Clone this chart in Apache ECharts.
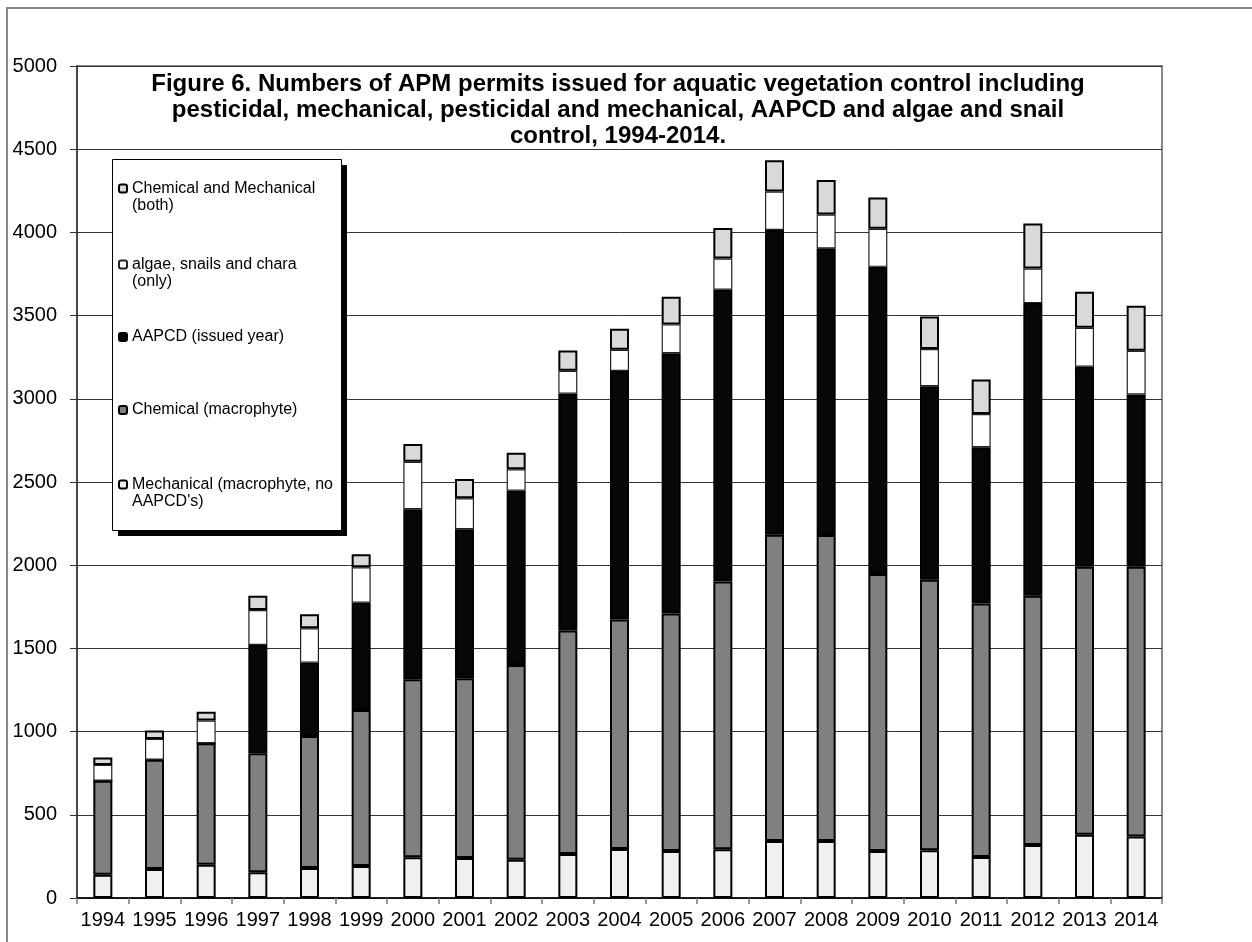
<!DOCTYPE html>
<html>
<head>
<meta charset="utf-8">
<title>APM permits 1994-2014</title>
<script src="https://cdn.jsdelivr.net/npm/echarts@6/dist/echarts.min.js"></script>
<style>
  html, body { margin: 0; padding: 0; background: #fff; }
  #chart { width: 1252px; height: 942px; }
</style>
</head>
<body>
<div id="chart"></div>
<script>
// Permit counts per year, stacked bottom to top
const years = ['1994','1995','1996','1997','1998','1999','2000','2001','2002','2003','2004',
               '2005','2006','2007','2008','2009','2010','2011','2012','2013','2014'];
const mechanical = [140,175,200,155,180,193,245,240,230,265,295,283,293,343,343,283,287,247,319,380,369];
const chemical   = [565,656,730,715,794,937,1069,1080,1170,1343,1378,1426,1609,1840,1838,1664,1626,1523,1498,1610,1621];
const aapcd      = [0,0,0,651,440,645,1022,896,1048,1422,1494,1565,1754,1831,1723,1846,1162,939,1758,1203,1036];
const algae      = [95,125,136,210,207,212,286,186,128,139,128,173,187,232,204,229,224,200,208,234,263];
const chemMech   = [45,50,53,85,84,79,106,116,100,122,126,167,183,187,207,187,195,207,270,217,270];

const yTicks = { min: 0, max: 5000, step: 500 };

const names = {
  mech: 'Mechanical (macrophyte, no\nAAPCD\'s)',
  chem: 'Chemical (macrophyte)',
  aapcd: 'AAPCD (issued year)',
  algae: 'algae, snails and chara\n(only)',
  both: 'Chemical and Mechanical\n(both)'
};

const FONT = '"Liberation Sans", Arial, Helvetica, sans-serif';

function barSeries(name, data, fill, borderWidth, borderColor) {
  return {
    name: name,
    type: 'bar',
    stack: 'total',
    barWidth: 19,
    data: data,
    itemStyle: { color: fill, borderColor: borderColor, borderWidth: borderWidth },
    emphasis: { disabled: true }
  };
}

// one legend block per entry; two-line names get a blank leading line so the
// marker lines up with the first line of text
function legendEntry(name, top, twoLines) {
  return {
    data: [{ name: name }],
    orient: 'vertical',
    left: 118,
    top: top,
    padding: 0,
    itemWidth: 8,
    itemHeight: 8,
    z: 5,
    formatter: twoLines ? function (n) { return '\n' + n; } : '{name}',
    textStyle: {
      fontFamily: FONT,
      fontSize: 16,
      lineHeight: 17,
      color: '#000'
    }
  };
}

const chart = echarts.init(document.getElementById('chart'), null, { renderer: 'canvas' });

chart.setOption({
  backgroundColor: '#fff',
  animation: false,
  title: {
    text: 'Figure 6. Numbers of APM permits issued for aquatic vegetation control including\n' +
          'pesticidal, mechanical, pesticidal and mechanical, AAPCD and algae and snail\n' +
          'control, 1994-2014.',
    left: 618,
    textAlign: 'center',
    top: 71,
    padding: 0,
    z: 6,
    textStyle: {
      fontFamily: FONT,
      fontSize: 24,
      fontWeight: 'bold',
      lineHeight: 26,
      color: '#000'
    }
  },
  grid: {
    left: 77, right: 90, top: 66, bottom: 44,
    show: true,
    borderColor: '#888',
    borderWidth: 2,
    backgroundColor: '#fff'
  },
  legend: [
    legendEntry(names.both, 163, true),
    legendEntry(names.algae, 239, true),
    legendEntry(names.aapcd, 328.5, false),
    legendEntry(names.chem, 401.5, false),
    legendEntry(names.mech, 459, true)
  ],
  xAxis: {
    type: 'category',
    data: years,
    boundaryGap: true,
    axisLine: { show: true, lineStyle: { color: '#000', width: 1.5 } },
    axisTick: { show: true, interval: 0, length: 6, lineStyle: { color: '#777', width: 1.5 } },
    axisLabel: { fontFamily: FONT, fontSize: 20, color: '#000', margin: 12, interval: 0 },
    splitLine: { show: false }
  },
  yAxis: {
    type: 'value',
    min: yTicks.min,
    max: yTicks.max,
    interval: yTicks.step,
    axisLine: { show: true, lineStyle: { color: '#333', width: 1.5 } },
    axisTick: { show: true, length: 7, lineStyle: { color: '#333', width: 1 } },
    axisLabel: {
      fontFamily: FONT, fontSize: 20, color: '#000', margin: 20,
      formatter: function (v) { return String(v); }
    },
    splitLine: { show: true, lineStyle: { color: '#333', width: 1 } }
  },
  graphic: [
    // figure frame (left and top edges)
    {
      type: 'polyline',
      z: 1,
      shape: { points: [[7, 942], [7, 8], [1252, 8]] },
      style: { stroke: '#888', lineWidth: 2, fill: null }
    },
    // legend box shadow
    {
      type: 'rect',
      z: 3,
      shape: { x: 118, y: 165, width: 229, height: 371 },
      style: { fill: '#000' }
    },
    // legend box
    {
      type: 'rect',
      z: 3,
      shape: { x: 112.5, y: 159.5, width: 229, height: 371 },
      style: { fill: '#fff', stroke: '#000', lineWidth: 1 }
    }
  ],
  series: [
    barSeries(names.mech, mechanical, '#f0f0f0', 2, '#000'),
    barSeries(names.chem, chemical, '#808080', 2, '#000'),
    barSeries(names.aapcd, aapcd, '#070707', 2, '#000'),
    barSeries(names.algae, algae, '#ffffff', 1.2, '#222'),
    barSeries(names.both, chemMech, '#d9d9d9', 2, '#000')
  ]
});
</script>
</body>
</html>
